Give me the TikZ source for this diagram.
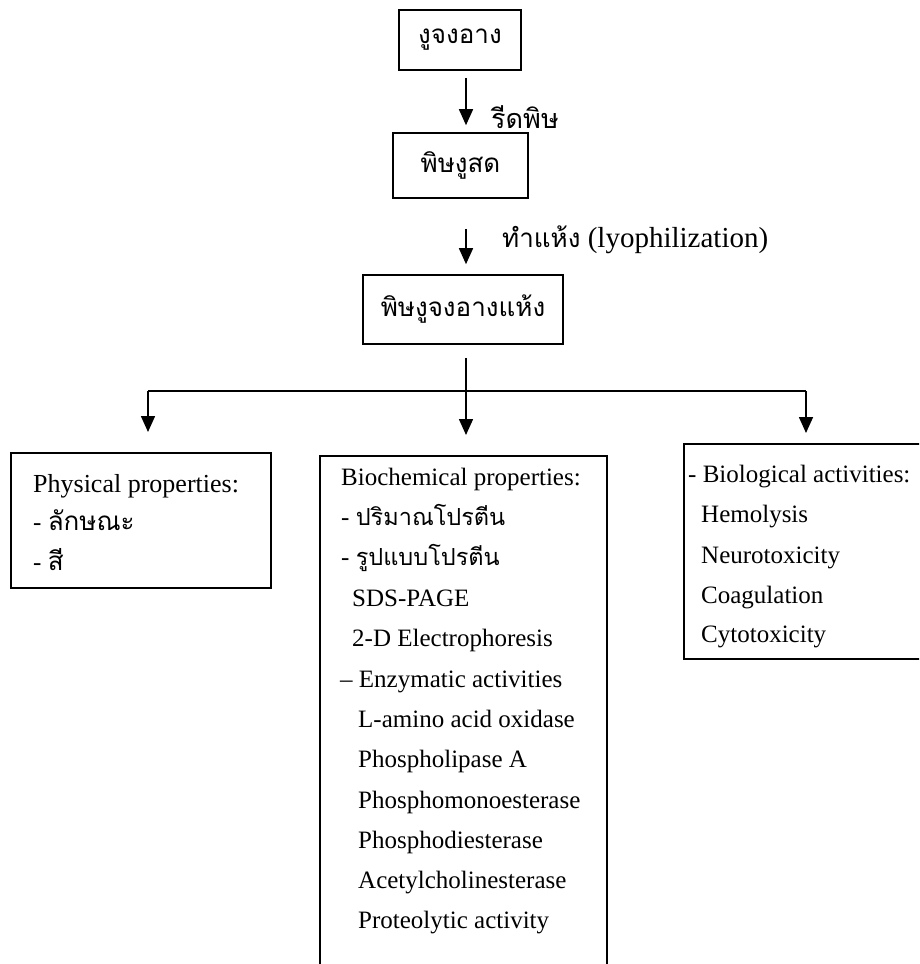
\documentclass[tikz,border=0pt]{standalone}
\usepackage{fontspec}
\setmainfont{Liberation Serif}
\newfontfamily\thaifont[Script=Thai]{Loma}
\usetikzlibrary{arrows.meta}
\tikzset{
  box/.style={draw, line width=1.6pt, inner sep=0pt},
  item/.style={anchor=base west, inner sep=0pt, font=\fontsize{25}{30}\selectfont},
  thaiitem/.style={font=\fontsize{26}{30}\selectfont\thaifont},
  flow/.style={line width=1.6pt, -{Triangle[width=14pt,length=16pt]}},
}
\begin{document}
\begin{tikzpicture}[x=1pt, y=-1pt]
  \useasboundingbox (0,0) rectangle (919,964);
  \clip (0,0) rectangle (919,964);
  % venom preparation
  \coordinate (trunk) at (466,0);
  \node[box, thaiitem, minimum width=122pt, minimum height=60pt] (snake) at (460,40) {งูจงอาง};
  \node[box, thaiitem, minimum width=135pt, minimum height=65pt] (fresh) at (460.5,165.5) {พิษงูสด};
  \node[box, thaiitem, minimum width=200pt, minimum height=69pt] (dry) at (463,309.5) {พิษงูจงอางแห้ง};
  \draw[flow, shorten <=7pt, shorten >=7pt] (snake.south -| trunk) -- (fresh.north -| trunk);
  \draw[flow, shorten <=30pt, shorten >=10pt] (fresh.south -| trunk) -- (dry.north -| trunk);
  \node[item, font=\fontsize{27}{30}\selectfont\thaifont] (milk) at (491,128) {รีดพิษ};
  \node[item, font=\fontsize{29}{32}\selectfont] (lyo) at (502,247) {{\fontsize{26}{30}\selectfont\thaifont ทำแห้ง} (lyophilization)};
  % three branches
  \node[box, anchor=north west, minimum width=260pt, minimum height=135pt] (phys) at (10,452) {};
  \node[box, anchor=north west, minimum width=287pt, minimum height=530pt] (bio) at (319,455) {};
  \node[box, anchor=north west, minimum width=260pt, minimum height=215pt] (act) at (683,443) {};
  \coordinate (split) at (466,391);
  \coordinate (lsplit) at (148,391);
  \coordinate (rsplit) at (806,391);
  \draw[line width=1.6pt, shorten <=13pt] (dry.south -| split) -- (split);
  \draw[line width=1.6pt] (lsplit) -- (rsplit);
  \draw[flow, shorten >=20pt] (lsplit) -- (phys.north -| lsplit);
  \draw[flow, shorten >=20pt] (split) -- (bio.north -| split);
  \draw[flow, shorten >=10pt] (rsplit) -- (act.north -| rsplit);
  % box contents
  \foreach \x/\y/\t [count=\i] in {33/492/{\fontsize{26}{30}\selectfont Physical properties:},
      33/530/- {\fontsize{26}{30}\selectfont\thaifont ลักษณะ},
      33/570/- {\fontsize{26}{30}\selectfont\thaifont สี}}
    \node[item] (physline\i) at (\x,\y) {\t};
  \foreach \x/\y/\t [count=\i] in {341/485/Biochemical properties:,
      341/525/- {\fontsize{23.5}{28}\selectfont\thaifont ปริมาณโปรตีน},
      341/565/- {\fontsize{23.5}{28}\selectfont\thaifont รูปแบบโปรตีน},
      352/606/SDS-PAGE,
      352/646/2-D Electrophoresis,
      340/687/– Enzymatic activities,
      358/727/L-amino acid oxidase,
      358/767/Phospholipase A,
      358/808/Phosphomonoesterase,
      358/848/Phosphodiesterase,
      358/888/Acetylcholinesterase,
      358/928/Proteolytic activity}
    \node[item] (bioline\i) at (\x,\y) {\t};
  \foreach \x/\y/\t [count=\i] in {688/482/- Biological activities:,
      701/522/Hemolysis,
      701/563/Neurotoxicity,
      701/603/Coagulation,
      701/642/Cytotoxicity}
    \node[item] (actline\i) at (\x,\y) {\t};
\end{tikzpicture}
\end{document}
